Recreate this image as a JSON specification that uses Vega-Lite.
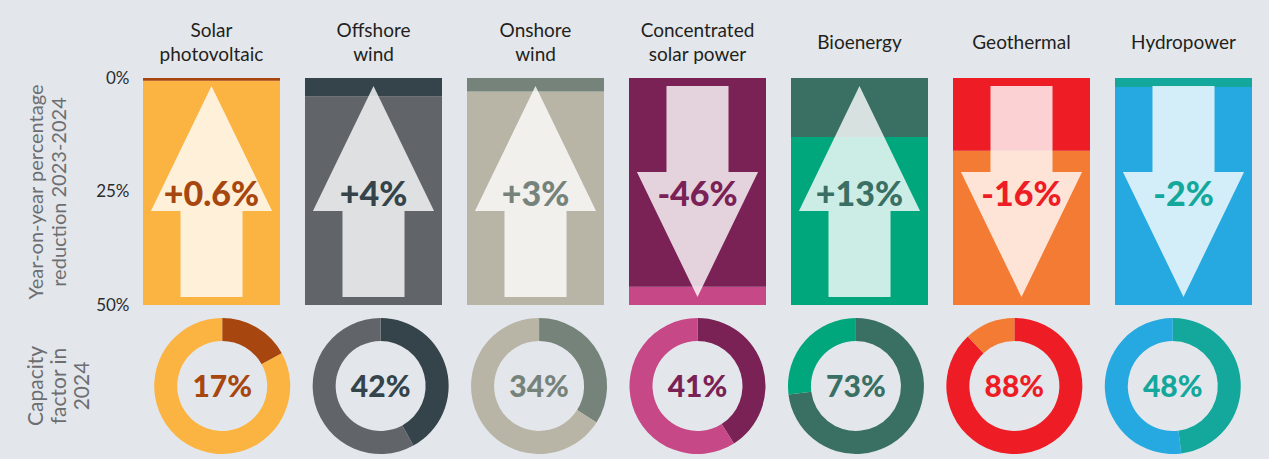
{
  "$schema": "https://vega.github.io/schema/vega-lite/v6.json",
  "background": "#e3e7eb",
  "padding": {"left": 26, "top": 21, "right": 18, "bottom": 0},
  "config": {
    "view": {"stroke": null},
    "font": "Lato",
    "concat": {"spacing": 0}
  },
  "datasets": {
    "tech": [
      {"tech": "Solar photovoltaic", "label": "+0.6%", "dir": "up", "mag": 0.6, "cf": 17, "cfLabel": "17%"},
      {"tech": "Offshore wind", "label": "+4%", "dir": "up", "mag": 4, "cf": 42, "cfLabel": "42%"},
      {"tech": "Onshore wind", "label": "+3%", "dir": "up", "mag": 3, "cf": 34, "cfLabel": "34%"},
      {"tech": "Concentrated solar power", "label": "-46%", "dir": "down", "mag": 46, "cf": 41, "cfLabel": "41%"},
      {"tech": "Bioenergy", "label": "+13%", "dir": "up", "mag": 13, "cf": 73, "cfLabel": "73%"},
      {"tech": "Geothermal", "label": "-16%", "dir": "down", "mag": 16, "cf": 88, "cfLabel": "88%"},
      {"tech": "Hydropower", "label": "-2%", "dir": "down", "mag": 2, "cf": 48, "cfLabel": "48%"}
    ]
  },
  "vconcat": [
    {
      "width": 1109,
      "height": 227,
      "data": {"name": "tech"},
      "layer": [
        {
          "mark": {"type": "rect"},
          "encoding": {
            "x": {
              "field": "tech", "type": "nominal", "sort": null,
              "scale": {"paddingInner": 0.1543, "paddingOuter": 0},
              "axis": {
                "orient": "top", "ticks": false, "domain": false, "labelAngle": 0,
                "labelFontSize": 19, "labelColor": "#231f20", "labelLineHeight": 24,
                "labelBaseline": "middle",
                "labelPadding": {"condition": {"test": "datum.value == 'Bioenergy' || datum.value == 'Geothermal' || datum.value == 'Hydropower'", "value": 36}, "value": 48},
                "title": null,
                "labelExpr": "datum.label == 'Concentrated solar power' ? ['Concentrated', 'solar power'] : split(datum.label, ' ')"
              }
            },
            "y": {
              "field": "mag", "type": "quantitative",
              "scale": {"domain": [0, 50], "reverse": true},
              "axis": {
                "values": [0, 25, 50], "labelExpr": "datum.value + '%'",
                "ticks": false, "domain": false, "grid": false,
                "labelPadding": 14, "labelFontSize": 17, "labelColor": "#2b2b2b",
                "title": ["Year-on-year percentage", "reduction 2023-2024"],
                "titleFontSize": 20, "titleFontWeight": "normal", "titleColor": "#6d6e71",
                "titlePadding": 26, "titleLineHeight": 23
              }
            },
            "y2": {"datum": 50},
            "fill": {
              "field": "tech", "type": "nominal", "legend": null,
              "scale": {
                "domain": ["Solar photovoltaic", "Offshore wind", "Onshore wind", "Concentrated solar power", "Bioenergy", "Geothermal", "Hydropower"],
                "range": ["#fbb342", "#616469", "#b8b5a6", "#c74886", "#00a77d", "#f47b33", "#26a9e0"]
              }
            }
          }
        },
        {
          "mark": {"type": "rect"},
          "encoding": {
            "x": {"field": "tech", "type": "nominal", "sort": null},
            "y": {"field": "mag", "type": "quantitative"},
            "y2": {"datum": 0},
            "color": {
              "field": "tech", "type": "nominal", "legend": null,
              "scale": {
                "domain": ["Solar photovoltaic", "Offshore wind", "Onshore wind", "Concentrated solar power", "Bioenergy", "Geothermal", "Hydropower"],
                "range": ["#a8460f", "#34444a", "#76837b", "#7a2155", "#3a6f64", "#ee1d25", "#14a89c"]
              }
            }
          }
        },
        {
          "mark": {"type": "point", "filled": true, "color": "#ffffff", "opacity": 0.8, "strokeWidth": 0, "size": 44521},
          "encoding": {
            "x": {"field": "tech", "type": "nominal", "sort": null},
            "y": {"datum": 25, "type": "quantitative"},
            "shape": {
              "field": "dir", "type": "nominal", "legend": null,
              "scale": {
                "domain": ["up", "down"],
                "range": [
                  "M0,-1L0.574,0.185L0.294,0.185L0.294,1L-0.294,1L-0.294,0.185L-0.574,0.185Z",
                  "M-0.294,-1L0.294,-1L0.294,-0.185L0.574,-0.185L0,1L-0.574,-0.185L-0.294,-0.185Z"
                ]
              }
            }
          }
        },
        {
          "mark": {"type": "text", "fontSize": 34, "fontWeight": 900, "baseline": "middle", "align": "center", "dy": 4},
          "encoding": {
            "x": {"field": "tech", "type": "nominal", "sort": null},
            "y": {"datum": 25, "type": "quantitative"},
            "text": {"field": "label"},
            "color": {"field": "tech", "type": "nominal", "legend": null}
          }
        }
      ]
    },
    {
      "width": 1109,
      "height": 146,
      "title": {
        "text": ["Capacity", "factor in", "2024"], "orient": "left", "anchor": "middle",
        "fontSize": 21, "fontWeight": "normal", "color": "#6d6e71", "lineHeight": 23, "offset": 50
      },
      "data": {"name": "tech"},
      "layer": [
        {
          "mark": {"type": "arc", "innerRadius": 45, "outerRadius": 68},
          "encoding": {
            "x": {"field": "tech", "type": "nominal", "sort": null, "axis": null,
                  "scale": {"paddingInner": 0.1543, "paddingOuter": 0}},
            "theta": {"field": "cf", "type": "quantitative", "scale": {"domain": [0, 100]}, "stack": null},
            "theta2": {"datum": 0},
            "color": {
              "field": "tech", "type": "nominal", "legend": null,
              "scale": {
                "domain": ["Solar photovoltaic", "Offshore wind", "Onshore wind", "Concentrated solar power", "Bioenergy", "Geothermal", "Hydropower"],
                "range": ["#a8460f", "#34444a", "#76837b", "#7a2155", "#3a6f64", "#ee1d25", "#14a89c"]
              }
            }
          }
        },
        {
          "mark": {"type": "arc", "innerRadius": 45, "outerRadius": 68},
          "encoding": {
            "x": {"field": "tech", "type": "nominal", "sort": null},
            "theta": {"field": "cf", "type": "quantitative", "stack": null},
            "theta2": {"datum": 100},
            "fill": {
              "field": "tech", "type": "nominal", "legend": null,
              "scale": {
                "domain": ["Solar photovoltaic", "Offshore wind", "Onshore wind", "Concentrated solar power", "Bioenergy", "Geothermal", "Hydropower"],
                "range": ["#fbb342", "#616469", "#b8b5a6", "#c74886", "#00a77d", "#f47b33", "#26a9e0"]
              }
            }
          }
        },
        {
          "mark": {"type": "text", "fontSize": 30, "fontWeight": 900, "baseline": "middle", "align": "center", "dy": 2},
          "encoding": {
            "x": {"field": "tech", "type": "nominal", "sort": null},
            "text": {"field": "cfLabel"},
            "color": {"field": "tech", "type": "nominal", "legend": null}
          }
        }
      ]
    }
  ]
}
